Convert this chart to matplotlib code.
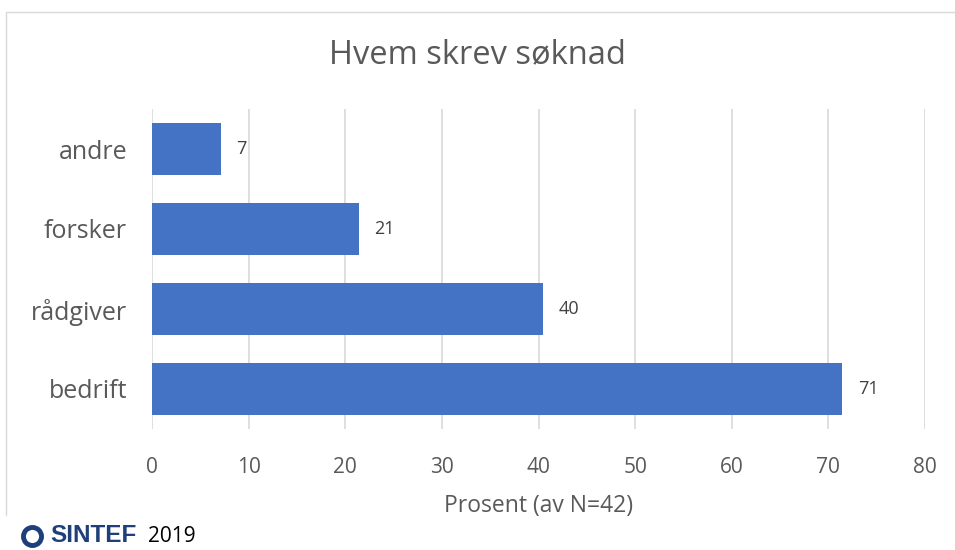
import matplotlib.pyplot as plt
from matplotlib.lines import Line2D

categories = ['bedrift', 'rådgiver', 'forsker', 'andre']
values = [71.43, 40.48, 21.43, 7.14]
value_labels = ['71', '40', '21', '7']
xticks = [0, 10, 20, 30, 40, 50, 60, 70, 80]

text_col = '#595959'
plt.rcParams['font.family'] = ['Open Sans', 'DejaVu Sans']

fig = plt.figure(figsize=(9.55, 5.5), dpi=100)
# chart frame (only left and top edges visible in the crop)
fig.add_artist(Line2D([6 / 955, 6 / 955, 1.0], [1 - 515 / 550, 1 - 12 / 550, 1 - 12 / 550],
                      transform=fig.transFigure, color='#D9D9D9', linewidth=1.0))

ax = fig.add_axes([152 / 955, 121 / 550, 773 / 955, 320 / 550])
y = range(len(categories))
ax.barh(y, values, height=0.66, color='#4472C4', zorder=3)
for i, (v, lab) in enumerate(zip(values, value_labels)):
    ax.text(v + 1.6, i, lab, va='center', ha='left', fontsize=13, color='#404040')

ax.set_xlim(0, 80)
ax.set_ylim(-0.5, len(categories) - 0.5)
ax.set_xticks(xticks)
ax.set_yticks(list(y))
ax.set_yticklabels(categories)
ax.tick_params(axis='x', length=0, pad=20, labelsize=15, labelcolor=text_col)
ax.tick_params(axis='y', length=0, pad=18, labelsize=18, labelcolor=text_col)
ax.grid(axis='x', color='#D9D9D9', linewidth=1.2, zorder=0)
for s in ax.spines.values():
    s.set_visible(False)
ax.set_xlabel('Prosent (av N=42)', fontsize=16.5, color=text_col, labelpad=12)

fig.text(0.5, 1 - 55 / 550, 'Hvem skrev søknad', ha='center', va='center',
         fontsize=23.5, color=text_col)

# SINTEF footer
fig.add_artist(Line2D([32 / 955], [1 - 536 / 550], transform=fig.transFigure, marker='o',
                      markersize=13, markerfacecolor='white', markeredgecolor='#1F3F7A',
                      markeredgewidth=3.5))
fig.text(50 / 955, 1 - 536 / 550, 'SINTEF', ha='left', va='center', fontsize=17.5,
         fontweight='heavy', color='#1F3F7A', family=['Liberation Sans', 'DejaVu Sans'])
fig.text(148 / 955, 1 - 537 / 550, '2019', ha='left', va='center', fontsize=15, color='black')

fig.savefig('out.png', dpi=100)
